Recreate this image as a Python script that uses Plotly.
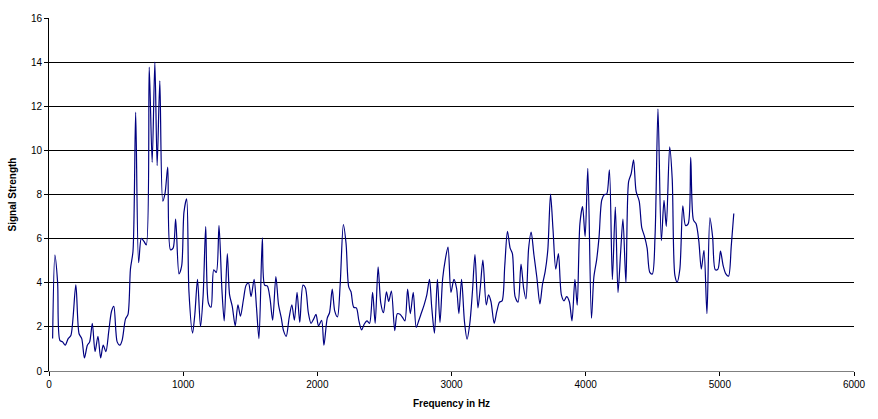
import plotly.graph_objects as go

# Frequency spectrum samples (Hz) and measured signal strength
freq_hz = [27, 44, 64, 81, 101, 121, 143, 163, 200, 224, 244, 264, 286, 303, 323, 343, 365, 385, 404, 424,
           446, 466, 483, 508, 528, 545, 570, 589, 607, 626, 646, 668, 688, 708, 725, 747, 769, 789, 806, 826,
           848, 865, 885, 905, 925, 944, 969, 989, 1006, 1026, 1043, 1070, 1087, 1107, 1129, 1149, 1168, 1188,
           1208, 1228, 1247, 1267, 1289, 1306, 1329, 1346, 1366, 1388, 1408, 1427, 1449, 1469, 1487, 1506,
           1529, 1546, 1565, 1590, 1607, 1627, 1647, 1667, 1691, 1711, 1731, 1748, 1768, 1790, 1810, 1829,
           1849, 1869, 1893, 1911, 1933, 1953, 1972, 1990, 2009, 2032, 2049, 2074, 2091, 2111, 2130, 2150,
           2170, 2194, 2214, 2234, 2251, 2271, 2291, 2310, 2330, 2350, 2370, 2389, 2412, 2431, 2453, 2473,
           2493, 2515, 2532, 2552, 2577, 2596, 2616, 2636, 2653, 2673, 2693, 2715, 2737, 2757, 2776, 2796,
           2816, 2836, 2853, 2873, 2895, 2914, 2934, 2954, 2974, 2996, 3018, 3038, 3055, 3075, 3097, 3116,
           3136, 3156, 3175, 3197, 3215, 3234, 3259, 3276, 3294, 3318, 3338, 3358, 3377, 3397, 3417, 3437,
           3454, 3474, 3496, 3518, 3538, 3555, 3575, 3594, 3614, 3636, 3659, 3678, 3698, 3718, 3738, 3757,
           3777, 3797, 3819, 3839, 3858, 3878, 3898, 3920, 3937, 3957, 3977, 3996, 4016, 4043, 4061, 4082,
           4100, 4120, 4140, 4157, 4177, 4199, 4221, 4241, 4261, 4278, 4300, 4320, 4339, 4357, 4376, 4399,
           4418, 4438, 4458, 4478, 4497, 4517, 4539, 4564, 4584, 4601, 4626, 4645, 4665, 4682, 4702, 4724,
           4744, 4764, 4783, 4803, 4823, 4843, 4862, 4882, 4904, 4926, 4946, 4966, 4986, 5005, 5025, 5045,
           5065, 5085, 5104]

strength = [1.47, 5.25, 4.03, 1.39, 1.32, 1.17, 1.47, 1.61, 3.9, 1.69, 1.47, 0.59, 1.17, 1.32, 2.16, 0.88,
            1.57, 0.59, 1.17, 0.88, 1.83, 2.71, 2.93, 1.32, 1.17, 1.39, 2.35, 2.57, 4.62, 5.43, 11.73, 4.91,
            6.01, 5.87, 5.72, 13.78, 9.46, 14.0, 9.31, 13.15, 7.7, 8.06, 9.24, 5.5, 5.57, 6.89, 4.4, 4.77,
            7.2, 7.8, 3.6, 1.72, 2.57, 4.15, 2.01, 3.45, 6.55, 3.08, 2.89, 4.59, 4.47, 6.6, 3.67, 2.27,
            5.32, 3.45, 2.93, 2.05, 3.0, 2.49, 3.23, 3.89, 3.99, 3.37, 4.15, 2.93, 1.47, 6.04, 3.89, 3.86,
            3.3, 2.3, 4.28, 3.0, 2.42, 1.83, 1.57, 2.42, 3.0, 2.3, 3.56, 2.2, 3.89, 3.77, 2.64, 2.16,
            2.35, 2.57, 2.05, 2.3, 1.17, 2.4, 2.64, 3.71, 2.71, 2.45, 3.89, 6.64, 5.79, 3.81, 3.59, 2.89,
            2.86, 2.27, 1.86, 2.13, 2.27, 2.16, 3.56, 2.16, 4.72, 3.08, 2.64, 3.59, 3.15, 3.62, 1.83, 2.6,
            2.57, 2.42, 2.27, 3.71, 2.6, 3.56, 1.98, 2.3, 2.64, 3.0, 3.45, 4.15, 2.86, 1.72, 4.15, 2.2,
            4.18, 5.06, 5.62, 3.56, 4.15, 3.74, 2.6, 4.15, 2.22, 1.44, 2.13, 3.59, 5.28, 2.86, 3.81, 5.03,
            3.0, 3.45, 3.15, 2.16, 2.71, 3.12, 3.18, 4.77, 6.33, 5.57, 5.32, 3.37, 3.12, 4.84, 3.74, 3.27,
            5.57, 6.3, 5.28, 4.25, 3.04, 3.92, 4.5, 5.5, 8.02, 6.38, 4.62, 5.32, 3.45, 3.18, 3.37, 3.15,
            2.27, 4.15, 2.98, 6.67, 7.45, 6.09, 9.19, 2.39, 4.25, 5.05, 6.09, 7.75, 8.0, 8.02, 9.12, 4.15,
            7.43, 3.56, 5.43, 6.89, 4.0, 8.58, 8.94, 9.57, 8.14, 7.7, 6.5, 6.11, 5.57, 4.47, 4.4, 6.09,
            11.88, 5.91, 7.73, 6.55, 10.16, 8.72, 4.33, 4.03, 4.62, 7.48, 6.6, 6.67, 9.68, 6.85, 6.67, 5.91,
            4.62, 5.47, 2.6, 6.94, 6.09, 4.59, 4.62, 5.43, 4.77, 4.4, 4.3, 5.65, 7.14]

x_ticks = [0, 1000, 2000, 3000, 4000, 5000, 6000]
y_ticks = [0, 2, 4, 6, 8, 10, 12, 14, 16]

fig = go.Figure()
fig.add_trace(go.Scatter(
    x=freq_hz, y=strength, mode="lines",
    line=dict(color="#000080", width=1.2, shape="spline", smoothing=0.8),
    hoverinfo="x+y", showlegend=False,
))

font_family = "Liberation Sans, Arial, sans-serif"

fig.update_layout(
    width=878, height=419,
    margin=dict(l=49, r=15, t=13, b=42),
    paper_bgcolor="white", plot_bgcolor="white",
    font=dict(family=font_family, size=10, color="black"),
    xaxis=dict(
        range=[0, 6000], tickvals=x_ticks, ticks="outside", ticklen=4, tickcolor="black",
        showgrid=False, zeroline=False, showline=True, linecolor="#808080", linewidth=1,
        title=dict(text="<b>Frequency in Hz</b>", font=dict(size=10), standoff=10),
        tickfont=dict(size=10),
    ),
    yaxis=dict(
        range=[0, 16], tickvals=y_ticks, ticks="outside", ticklen=4, tickcolor="black",
        showgrid=True, gridcolor="black", gridwidth=1, zeroline=False,
        showline=True, linecolor="black", linewidth=1,
        title=dict(text="<b>Signal Strength</b>", font=dict(size=10), standoff=12),
        tickfont=dict(size=10),
    ),
)

fig.write_html("out.html")
